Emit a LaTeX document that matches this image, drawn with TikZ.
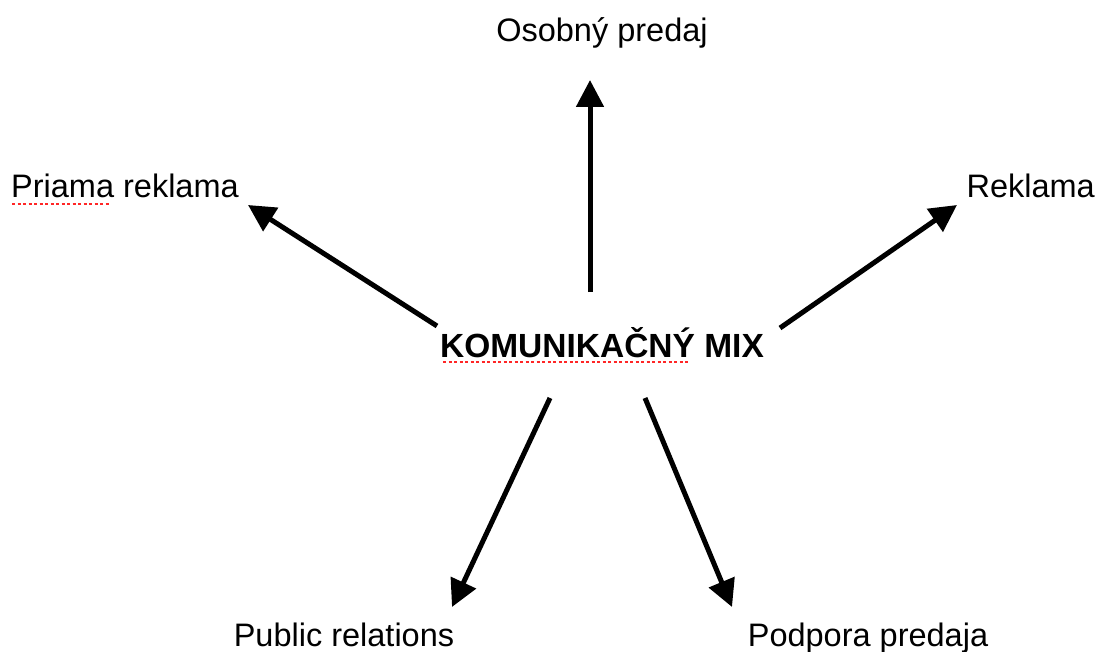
\documentclass[tikz,border=0pt]{standalone}
\usepackage{fontspec}
\setmainfont{Liberation Sans}
\usetikzlibrary{arrows.meta}
\begin{document}
\begin{tikzpicture}[x=1pt,y=-1pt,
  lbl/.style={inner sep=0pt,font=\fontsize{32.5}{38}\selectfont},
  arr/.style={line width=5pt,-{Triangle[length=27pt,width=27pt]}},
  spell/.style={red!85!white,line width=1.8pt,dash pattern=on 3pt off 2.5pt}]
\useasboundingbox (0,0) rectangle (1099,652);
\node[lbl,anchor=base] (osob) at (602,42) {Osobný predaj};
\node[lbl,anchor=base west] (priama) at (11,198) {Priama reklama};
\node[lbl,anchor=base east] (rekl) at (1095,198) {Reklama};
\node[lbl,anchor=base,font=\fontsize{33.5}{38}\selectfont\bfseries] (mix) at (602,357) {KOMUNIKAČNÝ MIX};
\node[lbl,anchor=base] (pr) at (344,646) {Public relations};
\node[lbl,anchor=base] (pp) at (868,646) {Podpora predaja};
\coordinate (su) at (590,292); \coordinate (tu) at (590,80);
\coordinate (sl) at (437,326); \coordinate (tl) at (248,205);
\coordinate (sr) at (780,328); \coordinate (tr) at (957,205);
\coordinate (sdl) at (550,398); \coordinate (tdl) at (452,607);
\coordinate (sdr) at (645,398); \coordinate (tdr) at (732,607);
\draw[arr] (su) -- (tu);
\draw[arr] (sl) -- (tl);
\draw[arr] (sr) -- (tr);
\draw[arr] (sdl) -- (tdl);
\draw[arr] (sdr) -- (tdr);
\coordinate (u1a) at (12,204); \coordinate (u1b) at (110,204);
\coordinate (u2a) at (443,362); \coordinate (u2b) at (690,362);
\draw[spell] (u1a) -- (u1b);
\draw[spell] (u2a) -- (u2b);
\end{tikzpicture}
\end{document}
